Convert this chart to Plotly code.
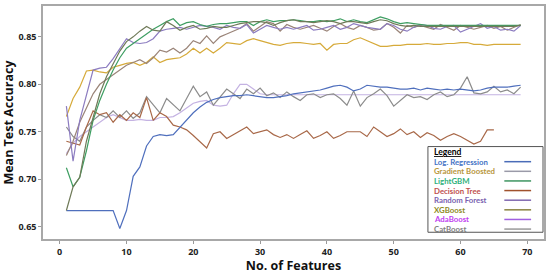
import plotly.graph_objects as go

features = list(range(1, 70))
features_dt = list(range(1, 66))

log_regression = [0.667, 0.667, 0.667, 0.667, 0.667, 0.667, 0.667, 0.667, 0.648, 0.667,
                  0.703, 0.713, 0.735, 0.745, 0.747, 0.746, 0.747, 0.755, 0.762, 0.770,
                  0.776, 0.781, 0.784, 0.786, 0.787, 0.788, 0.788, 0.789, 0.788, 0.787,
                  0.786, 0.786, 0.787, 0.788, 0.790, 0.791, 0.792, 0.793, 0.794, 0.796,
                  0.798, 0.799, 0.797, 0.793, 0.795, 0.799, 0.798, 0.797, 0.797, 0.796,
                  0.795, 0.795, 0.796, 0.794, 0.796, 0.795, 0.794, 0.795, 0.794, 0.795,
                  0.794, 0.793, 0.794, 0.796, 0.797, 0.797, 0.797, 0.798, 0.799]

gradient_boosted = [0.766, 0.785, 0.797, 0.814, 0.815, 0.813, 0.812, 0.818, 0.820, 0.822,
                    0.823, 0.820, 0.823, 0.829, 0.823, 0.826, 0.827, 0.828, 0.832, 0.838,
                    0.833, 0.838, 0.833, 0.838, 0.844, 0.843, 0.842, 0.846, 0.848, 0.846,
                    0.844, 0.842, 0.841, 0.843, 0.844, 0.844, 0.843, 0.842, 0.843, 0.836,
                    0.842, 0.843, 0.843, 0.847, 0.849, 0.846, 0.843, 0.840, 0.840, 0.841,
                    0.841, 0.842, 0.842, 0.842, 0.843, 0.842, 0.842, 0.843, 0.843, 0.844,
                    0.844, 0.842, 0.842, 0.841, 0.842, 0.842, 0.842, 0.842, 0.842]

lightgbm = [0.712, 0.692, 0.702, 0.730, 0.762, 0.783, 0.800, 0.815, 0.828, 0.838,
            0.843, 0.848, 0.853, 0.858, 0.862, 0.866, 0.869, 0.862, 0.865, 0.866,
            0.863, 0.861, 0.863, 0.864, 0.864, 0.865, 0.866, 0.866, 0.862, 0.866,
            0.868, 0.866, 0.867, 0.867, 0.868, 0.867, 0.866, 0.866, 0.867, 0.866,
            0.867, 0.869, 0.866, 0.868, 0.866, 0.865, 0.868, 0.871, 0.869, 0.866,
            0.864, 0.865, 0.864, 0.863, 0.862, 0.862, 0.862, 0.862, 0.862, 0.862,
            0.862, 0.862, 0.862, 0.862, 0.862, 0.862, 0.862, 0.862, 0.862]

decision_tree = [0.740, 0.738, 0.736, 0.755, 0.772, 0.768, 0.770, 0.760, 0.768, 0.762,
                 0.770, 0.765, 0.786, 0.762, 0.770, 0.766, 0.757, 0.755, 0.752, 0.746,
                 0.740, 0.733, 0.748, 0.750, 0.743, 0.747, 0.751, 0.755, 0.748, 0.750,
                 0.752, 0.747, 0.744, 0.747, 0.743, 0.747, 0.751, 0.743, 0.746, 0.750,
                 0.743, 0.746, 0.750, 0.750, 0.750, 0.745, 0.755, 0.750, 0.745, 0.748,
                 0.753, 0.747, 0.750, 0.744, 0.749, 0.746, 0.741, 0.745, 0.748, 0.745,
                 0.741, 0.737, 0.740, 0.752, 0.752]

random_forest = [0.777, 0.719, 0.762, 0.790, 0.815, 0.817, 0.818, 0.827, 0.838, 0.848,
                 0.844, 0.843, 0.844, 0.848, 0.856, 0.858, 0.859, 0.860, 0.858, 0.860,
                 0.862, 0.861, 0.860, 0.858, 0.862, 0.860, 0.859, 0.863, 0.854, 0.858,
                 0.862, 0.860, 0.858, 0.860, 0.858, 0.860, 0.862, 0.857, 0.858, 0.860,
                 0.862, 0.858, 0.860, 0.864, 0.862, 0.860, 0.859, 0.858, 0.864, 0.862,
                 0.858, 0.856, 0.860, 0.863, 0.862, 0.859, 0.858, 0.861, 0.862, 0.855,
                 0.858, 0.861, 0.864, 0.859, 0.861, 0.857, 0.858, 0.856, 0.862]

xgboost = [0.667, 0.692, 0.702, 0.740, 0.765, 0.790, 0.808, 0.822, 0.835, 0.845,
           0.850, 0.856, 0.861, 0.857, 0.856, 0.866, 0.862, 0.857, 0.860, 0.862,
           0.858, 0.859, 0.861, 0.860, 0.860, 0.862, 0.864, 0.865, 0.866, 0.866,
           0.865, 0.862, 0.865, 0.867, 0.868, 0.866, 0.866, 0.865, 0.866, 0.867,
           0.866, 0.864, 0.866, 0.866, 0.865, 0.864, 0.866, 0.868, 0.867, 0.864,
           0.862, 0.861, 0.862, 0.861, 0.861, 0.861, 0.861, 0.861, 0.861, 0.861,
           0.861, 0.861, 0.861, 0.861, 0.861, 0.861, 0.861, 0.861, 0.862]

adaboost = [0.727, 0.738, 0.745, 0.750, 0.755, 0.760, 0.765, 0.768, 0.765, 0.762,
            0.762, 0.763, 0.762, 0.762, 0.765, 0.765, 0.766, 0.770, 0.775, 0.780,
            0.782, 0.783, 0.778, 0.777, 0.778, 0.790, 0.800, 0.800, 0.795, 0.790,
            0.789, 0.789, 0.789, 0.789, 0.789, 0.789, 0.789, 0.789, 0.789, 0.789,
            0.789, 0.789, 0.789, 0.789, 0.789, 0.789, 0.789, 0.789, 0.789, 0.789,
            0.789, 0.789, 0.789, 0.789, 0.789, 0.789, 0.789, 0.789, 0.789, 0.789,
            0.789, 0.789, 0.789, 0.789, 0.789, 0.789, 0.789, 0.789, 0.789]

catboost = [0.755, 0.745, 0.740, 0.755, 0.762, 0.768, 0.765, 0.772, 0.765, 0.772,
            0.764, 0.770, 0.787, 0.778, 0.770, 0.785, 0.778, 0.772, 0.785, 0.798,
            0.787, 0.792, 0.778, 0.786, 0.795, 0.790, 0.785, 0.795, 0.790, 0.796,
            0.788, 0.791, 0.786, 0.792, 0.787, 0.783, 0.789, 0.790, 0.786, 0.789,
            0.790, 0.785, 0.778, 0.793, 0.777, 0.786, 0.790, 0.795, 0.788, 0.777,
            0.783, 0.789, 0.786, 0.787, 0.784, 0.789, 0.792, 0.787, 0.789, 0.796,
            0.808, 0.791, 0.790, 0.792, 0.798, 0.792, 0.794, 0.790, 0.797]

extra_model = [0.725, 0.740, 0.760, 0.775, 0.790, 0.800, 0.805, 0.810, 0.815, 0.820,
               0.823, 0.826, 0.822, 0.828, 0.836, 0.834, 0.838, 0.833, 0.838, 0.846,
               0.843, 0.851, 0.843, 0.850, 0.853, 0.856, 0.859, 0.864, 0.856, 0.861,
               0.866, 0.864, 0.856, 0.863, 0.860, 0.858, 0.860, 0.862, 0.859, 0.856,
               0.861, 0.864, 0.860, 0.858, 0.862, 0.860, 0.857, 0.858, 0.864, 0.860,
               0.854, 0.862, 0.860, 0.862, 0.860, 0.858, 0.863, 0.860, 0.857, 0.862,
               0.860, 0.858, 0.860, 0.862, 0.859, 0.861, 0.857, 0.860, 0.863]

legend_names = ["Log. Regression", "Gradient Boosted", "LightGBM", "Decision Tree",
                "Random Forest", "XGBoost", "AdaBoost", "CatBoost"]
legend_text_colors = ["#4472C4", "#B8963C", "#2FB07A", "#C0504D",
                      "#7A5FB0", "#8E8A1E", "#C040F0", "#808080"]
legend_line_colors = ["#4A6CB8", "#9A9AA8", "#3E9460", "#A0522D",
                      "#8068B0", "#8A8440", "#A060E0", "#9A9A9A"]

x_ticks = [0, 10, 20, 30, 40, 50, 60, 70]
y_ticks = [0.65, 0.70, 0.75, 0.80, 0.85]

series = [
    (features, adaboost, "#C4B2E2", "AdaBoost"),
    (features, catboost, "#8C8C8C", "CatBoost"),
    (features_dt, decision_tree, "#A86848", "Decision Tree"),
    (features, log_regression, "#4F6FBD", "Log. Regression"),
    (features, gradient_boosted, "#D6AA3A", "Gradient Boosted"),
    (features, extra_model, "#9A8478", "Extra"),
    (features, random_forest, "#8C7CC0", "Random Forest"),
    (features, lightgbm, "#3E9E62", "LightGBM"),
    (features, xgboost, "#6F7A58", "XGBoost"),
]

fig = go.Figure()
for xs, ys, col, nm in series:
    fig.add_trace(go.Scatter(x=xs, y=ys, mode="lines", name=nm,
                             line=dict(color=col, width=1.2), showlegend=False))

W, H = 550, 274
L, R, T, B = 40, 5, 4, 28
pw, ph = W - L - R, H - T - B

def px(xp):
    return (xp - L) / pw

def py(yp):
    return (H - B - yp) / ph

fig.update_layout(
    width=W, height=H,
    margin=dict(l=L, r=R, t=T, b=B),
    paper_bgcolor="white", plot_bgcolor="white",
    showlegend=False,
    font=dict(family="Open Sans", color="#222222"),
)
fig.update_xaxes(range=[-2.5, 72.5], tickvals=x_ticks, ticks="outside", ticklen=3,
                 tickcolor="#9A9A9A", showline=True, linecolor="#A8A8A8", linewidth=1.5,
                 mirror=True, showgrid=False, zeroline=False,
                 tickfont=dict(size=9, family="Open Sans", weight="bold", color="#222"),
                 title=dict(text="<b>No. of Features</b>", standoff=4,
                            font=dict(size=12.5, family="Open Sans", color="#111")))
fig.update_yaxes(range=[0.637, 0.8825], tickvals=y_ticks, tickformat=".2f", ticks="outside",
                 ticklen=3, tickcolor="#9A9A9A", showline=True, linecolor="#A8A8A8",
                 linewidth=1.5, mirror=True, showgrid=False, zeroline=False,
                 tickfont=dict(size=9, family="Open Sans", weight="bold", color="#222"),
                 title=dict(text="<b>Mean Test Accuracy</b>", standoff=6,
                            font=dict(size=12.5, family="Open Sans", color="#111")))

# legend box
fig.add_shape(type="rect", xref="paper", yref="paper",
              x0=px(428), x1=px(544), y0=py(239), y1=py(150),
              line=dict(color="#555555", width=1), fillcolor="white", layer="above")
fig.add_annotation(xref="paper", yref="paper", x=px(432), y=py(156), xanchor="left",
                   yanchor="middle", showarrow=False, text="<b><u>Legend</u></b>",
                   font=dict(size=8.5, family="Lato", color="#000"))
for i, (nm, tc, lc) in enumerate(zip(legend_names, legend_text_colors, legend_line_colors)):
    yy = 165.7 + 10 * i
    fig.add_annotation(xref="paper", yref="paper", x=px(432), y=py(yy), xanchor="left",
                       yanchor="middle", showarrow=False, text=nm,
                       font=dict(size=7.8, family="Lato", weight="bold", color=tc))
    fig.add_shape(type="line", xref="paper", yref="paper", x0=px(505), x1=px(532),
                  y0=py(yy), y1=py(yy), line=dict(color=lc, width=1.5), layer="above")

fig.write_html("out.html")
